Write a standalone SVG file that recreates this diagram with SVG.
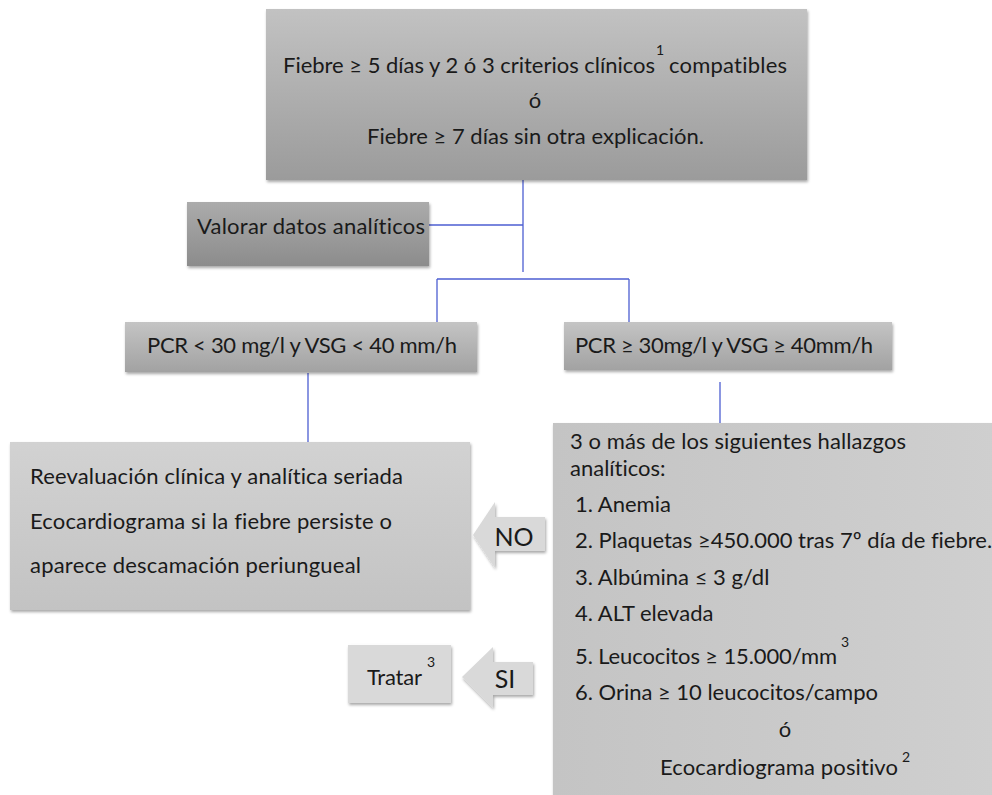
<svg xmlns="http://www.w3.org/2000/svg" width="992" height="795" viewBox="0 0 992 795">
<defs>
<linearGradient id="gTop" x1="0" y1="0" x2="0" y2="1"><stop offset="0" stop-color="#c2c2c2"/><stop offset="1" stop-color="#9b9b9b"/></linearGradient>
<linearGradient id="gVal" x1="0" y1="0" x2="0" y2="1"><stop offset="0" stop-color="#ababab"/><stop offset="1" stop-color="#8c8c8c"/></linearGradient>
<linearGradient id="gPcr" x1="0" y1="0" x2="0" y2="1"><stop offset="0" stop-color="#c4c4c4"/><stop offset="1" stop-color="#a2a2a2"/></linearGradient>
<linearGradient id="gLight" x1="0" y1="0" x2="0" y2="1"><stop offset="0" stop-color="#d2d2d2"/><stop offset="1" stop-color="#c3c3c3"/></linearGradient>
<linearGradient id="gBig" x1="0" y1="0" x2="1" y2="0"><stop offset="0" stop-color="#c4c4c4"/><stop offset="1" stop-color="#cfcfcf"/></linearGradient>
<filter id="sh" x="-5%" y="-5%" width="110%" height="115%"><feGaussianBlur in="SourceAlpha" stdDeviation="1.5"/><feOffset dx="1" dy="1.5" result="b"/><feComponentTransfer><feFuncA type="linear" slope="0.35"/></feComponentTransfer><feMerge><feMergeNode/><feMergeNode in="SourceGraphic"/></feMerge></filter>
</defs>
<style>
text{font-family:Lato,"Open Sans","Liberation Sans",sans-serif;fill:#1a1a1a;font-size:22px;font-variant-ligatures:none}
.c{text-anchor:middle}
.sup{font-size:14px}
.big{font-size:25px}
.conn{stroke:#4d5fd2;stroke-width:1.3;fill:none}
</style>
<rect width="992" height="795" fill="#ffffff"/>
<g id="connectors">
<path class="conn" d="M523 180V272M427 225H523M437 279H629M437 279V322M629 279V322M308 373V443M720 382V423"/>
</g>
<g id="n-top">
<rect x="266" y="9" width="541" height="171" fill="url(#gTop)" filter="url(#sh)"/>
<text x="283" y="73" textLength="372">Fiebre ≥ 5 días y 2 ó 3 criterios clínicos</text>
<text x="656" y="55" class="sup">1</text>
<text x="669" y="73" textLength="118">compatibles</text>
<text x="535" y="108" class="c">ó</text>
<text x="367" y="144" textLength="337">Fiebre ≥ 7 días sin otra explicación.</text>
</g>
<g id="n-valorar">
<rect x="187" y="202" width="242" height="64" fill="url(#gVal)" filter="url(#sh)"/>
<text x="197" y="234" textLength="228">Valorar datos analíticos</text>
</g>
<g id="n-pcr-low">
<rect x="125" y="322" width="352" height="50" fill="url(#gPcr)" filter="url(#sh)"/>
<text x="147" y="353" textLength="310">PCR &lt; 30 mg/l y VSG &lt; 40 mm/h</text>
</g>
<g id="n-pcr-high">
<rect x="564" y="322" width="328" height="48" fill="url(#gPcr)" filter="url(#sh)"/>
<text x="575" y="353" textLength="298">PCR ≥ 30mg/l y VSG ≥ 40mm/h</text>
</g>
<g id="n-reeval">
<rect x="10" y="442" width="460" height="168" fill="url(#gLight)" filter="url(#sh)"/>
<text x="30" y="484" textLength="373">Reevaluación clínica y analítica seriada</text>
<text x="30" y="529" textLength="362">Ecocardiograma si la fiebre persiste o</text>
<text x="30" y="573" textLength="331">aparece descamación periungueal</text>
</g>
<g id="n-no">
<path d="M473 535L495 502V517H545V551H495V568Z" fill="#d9d9d9" filter="url(#sh)"/>
<text x="514" y="546" class="c big">NO</text>
</g>
<g id="n-hallazgos">
<rect x="553" y="423" width="445" height="380" fill="url(#gBig)" filter="url(#sh)"/>
<text x="570" y="449" textLength="336">3 o más de los siguientes hallazgos</text>
<text x="570" y="476">analíticos:</text>
<text x="575" y="512">1. Anemia</text>
<text x="575" y="548">2. Plaquetas ≥450.000 tras 7º día de fiebre.</text>
<text x="575" y="585">3. Albúmina ≤ 3 g/dl</text>
<text x="575" y="621">4. ALT elevada</text>
<text x="575" y="664" textLength="262">5. Leucocitos ≥ 15.000/mm</text>
<text x="841" y="647" class="sup">3</text>
<text x="575" y="700" textLength="303">6. Orina ≥ 10 leucocitos/campo</text>
<text x="785" y="737" class="c">ó</text>
<text x="660" y="775" textLength="238">Ecocardiograma positivo</text>
<text x="902" y="762" class="sup">2</text>
</g>
<g id="n-tratar">
<rect x="348" y="645" width="103" height="58" fill="#d9d9d9" filter="url(#sh)"/>
<text x="367" y="685" textLength="55">Tratar</text>
<text x="427" y="667" class="sup">3</text>
</g>
<g id="n-si">
<path d="M462 677L493 647V662H533V695H493V708Z" fill="#d9d9d9" filter="url(#sh)"/>
<text x="505" y="688" class="c big">SI</text>
</g>
</svg>
